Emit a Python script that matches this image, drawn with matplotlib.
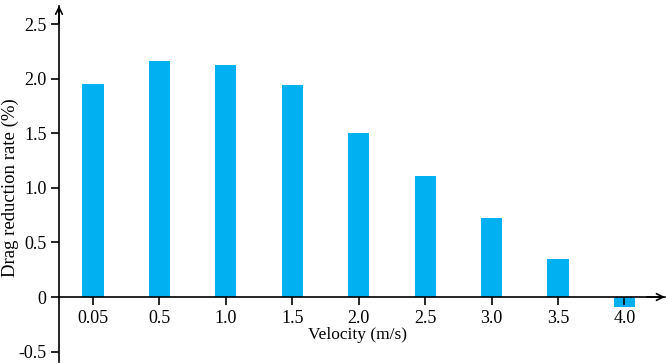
import matplotlib.pyplot as plt
import numpy as np

plt.rcParams["font.family"] = ["Liberation Serif", "DejaVu Serif"]

velocity = ["0.05", "0.5", "1.0", "1.5", "2.0", "2.5", "3.0", "3.5", "4.0"]
drag_reduction = [1.95, 2.16, 2.13, 1.94, 1.50, 1.11, 0.72, 0.35, -0.09]
y_ticks = [-0.5, 0, 0.5, 1.0, 1.5, 2.0, 2.5]
y_tick_labels = ["-0.5", "0", "0.5", "1.0", "1.5", "2.0", "2.5"]

fig = plt.figure(figsize=(6.68, 3.63), dpi=100)
ax = fig.add_axes([0.0883, 0.0014, 0.9072, 0.983])

x = np.arange(len(velocity))
ax.bar(x, drag_reduction, width=0.32, color="#00B0F0", zorder=1)

ax.set_xlim(-0.512, 8.61)
ax.set_ylim(-0.6, 2.67)

ax.spines["top"].set_visible(False)
ax.spines["right"].set_visible(False)
ax.spines["bottom"].set_position(("data", 0))
for s in ("left", "bottom"):
    ax.spines[s].set_linewidth(1.2)
    ax.spines[s].set_zorder(3)

# open arrow heads at the axis ends
arrow = dict(arrowstyle="->", lw=1.2, color="k", mutation_scale=12,
             shrinkA=0, shrinkB=0)
ax.annotate("", xy=(1.0, 0), xytext=(0.97, 0),
            xycoords=ax.get_yaxis_transform(),
            textcoords=ax.get_yaxis_transform(), arrowprops=arrow)
ax.annotate("", xy=(0, 1.0), xytext=(0, 0.95), xycoords="axes fraction",
            textcoords="axes fraction", arrowprops=arrow)

ax.set_xticks(x)
ax.set_xticklabels(velocity)
ax.set_yticks(y_ticks)
ax.set_yticklabels(y_tick_labels)
ax.tick_params(axis="both", direction="out", length=6, width=1.2, labelsize=13,
               pad=3)

ax.set_xlabel("Velocity (m/s)", fontsize=12.5)
ax.xaxis.set_label_coords(0.493, 0.0995)
ax.set_ylabel("Drag reduction rate (%)", fontsize=13.5)
ax.yaxis.set_label_coords(-0.066, 0.49)

fig.savefig("out.png", dpi=100)
